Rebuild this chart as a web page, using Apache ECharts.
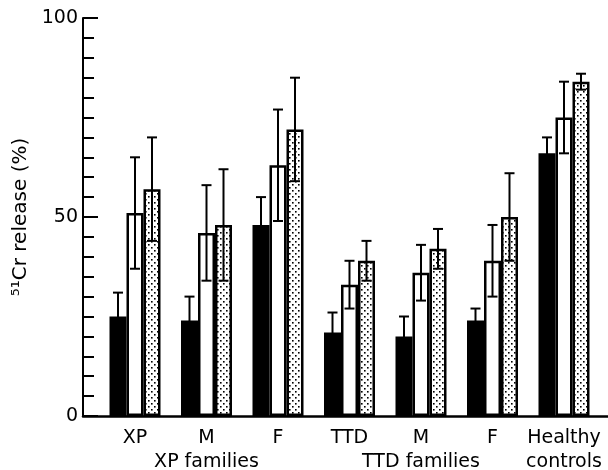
<!DOCTYPE html>
<html><head><meta charset="utf-8">
<script src="https://cdn.jsdelivr.net/npm/echarts@6/dist/echarts.min.js"></script>
<style>html,body{margin:0;padding:0;background:#fff}#c{width:608px;height:470px}</style>
</head><body><div id="c"></div>
<script>
var categories = ['XP', 'M\nXP families', 'F', 'TTD', 'M\nTTD families', 'F', 'Healthy\ncontrols'];
var blackVals = [25, 24, 48, 21, 20, 24, 66];
var blackErr  = [6, 6, 7, 5, 5, 3, 4];
var whiteVals = [51, 46, 63, 33, 36, 39, 75];
var whiteErr  = [14, 12, 14, 6, 7, 9, 9];
var dotVals   = [57, 48, 72, 39, 42, 50, 84];
var dotErr    = [13, 14, 13, 5, 5, 11, 2];
var yTicks = [0, 50, 100];

var FONT = 'DejaVu Sans';
var BW = 17;

// dotted fill pattern
var pc = document.createElement('canvas');
pc.width = 6; pc.height = 6;
var g = pc.getContext('2d');
g.fillStyle = '#fff'; g.fillRect(0, 0, 6, 6);
g.fillStyle = '#000';
g.fillRect(1, 1, 1.6, 1.6);
g.fillRect(4, 4, 1.6, 1.6);

function errData(vals, errs, k) {
  return vals.map(function (v, i) { return [i, v - errs[i], v + errs[i], k]; });
}
var errAll = [].concat(errData(blackVals, blackErr, 0), errData(whiteVals, whiteErr, 1), errData(dotVals, dotErr, 2));

var chart = echarts.init(document.getElementById('c'));
chart.setOption({
  animation: false,
  backgroundColor: '#fff',
  grid: [
    { left: 83, right: 0, top: 18, bottom: 54, containLabel: false, outerBoundsMode: 'none' },
    { left: 99.25, right: 8.25, top: 18, bottom: 54, containLabel: false, outerBoundsMode: 'none' }
  ],
  xAxis: [
    { gridIndex: 0, type: 'value', min: 0, max: 1, axisLabel: { show: false }, axisTick: { show: false }, splitLine: { show: false },
      axisLine: { show: true, lineStyle: { color: '#000', width: 2.5 } } },
    { gridIndex: 1, type: 'category', data: categories, axisLine: { show: false }, axisTick: { show: false },
      axisLabel: { interval: 0, color: '#000', fontFamily: FONT, fontSize: 19, lineHeight: 24, margin: 10 } }
  ],
  yAxis: [
    { gridIndex: 0, type: 'value', min: 0, max: 100, interval: 50,
      name: '\u2075\u00b9Cr release (%)', nameLocation: 'middle', nameRotate: 90, nameGap: 42,
      nameTextStyle: { color: '#000', fontFamily: FONT, fontSize: 20 },
      axisLine: { show: true, lineStyle: { color: '#000', width: 2 } },
      axisTick: { show: true, inside: true, length: 15, lineStyle: { color: '#000', width: 2 } },
      minorTick: { show: true, splitNumber: 10, length: 11, lineStyle: { color: '#000', width: 2 } },
      splitLine: { show: false },
      axisLabel: { color: '#000', fontFamily: FONT, fontSize: 19, margin: 5,
        formatter: function (v) { return yTicks.indexOf(v) >= 0 ? String(v) : ''; } } },
    { gridIndex: 1, type: 'value', min: 0, max: 100, show: false }
  ],
  series: [
    { type: 'bar', xAxisIndex: 1, yAxisIndex: 1, data: blackVals, barWidth: BW, barGap: '0%',
      itemStyle: { color: '#000', borderColor: '#000', borderWidth: 2.5 } },
    { type: 'bar', xAxisIndex: 1, yAxisIndex: 1, data: whiteVals, barWidth: BW, barGap: '0%',
      itemStyle: { color: '#fff', borderColor: '#000', borderWidth: 2.5 } },
    { type: 'bar', xAxisIndex: 1, yAxisIndex: 1, data: dotVals, barWidth: BW, barGap: '0%',
      itemStyle: { color: { image: pc, repeat: 'repeat' }, borderColor: '#000', borderWidth: 2.5 } },
    { type: 'custom', xAxisIndex: 1, yAxisIndex: 1, data: errAll, z: 10,
      renderItem: function (params, api) {
        var idx = api.value(0), k = api.value(3);
        var lo = api.coord([idx, api.value(1)]);
        var hi = api.coord([idx, api.value(2)]);
        var x = lo[0] + (k - 1) * BW;
        var cw = 5;
        var st = { stroke: '#000', lineWidth: 2 };
        return { type: 'group', children: [
          { type: 'line', shape: { x1: x, y1: lo[1], x2: x, y2: hi[1] }, style: st },
          { type: 'line', shape: { x1: x - cw, y1: hi[1], x2: x + cw, y2: hi[1] }, style: st },
          { type: 'line', shape: { x1: x - cw, y1: lo[1], x2: x + cw, y2: lo[1] }, style: st }
        ] };
      } }
  ]
});
</script></body></html>
